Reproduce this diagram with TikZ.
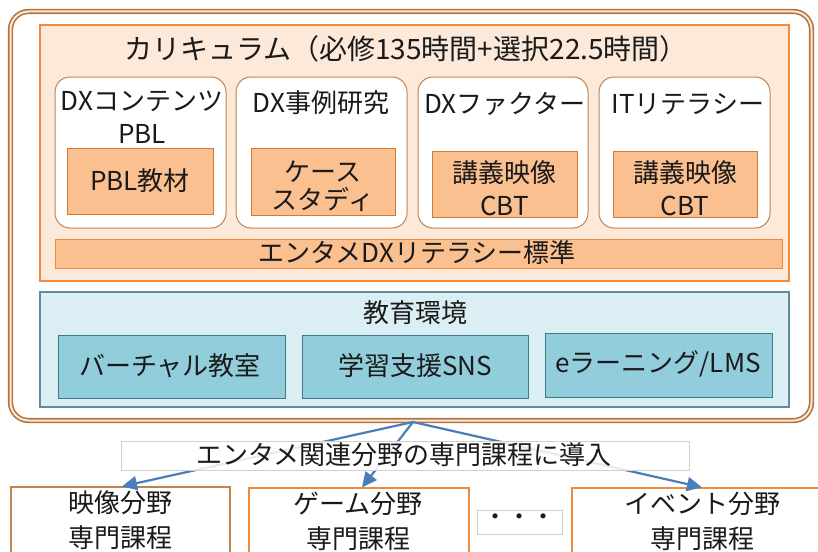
\documentclass[tikz,border=0pt]{standalone}
\usepackage{fontspec}
\setmainfont{Noto Sans CJK JP}
\usetikzlibrary{arrows.meta,positioning}
\definecolor{framebrown}{HTML}{B8733A}
\definecolor{curfill}{HTML}{FDE9D9}
\definecolor{curdraw}{HTML}{F08A3E}
\definecolor{subdraw}{HTML}{C08550}
\definecolor{innfill}{HTML}{FAC090}
\definecolor{inndraw}{HTML}{D27A35}
\definecolor{edufill}{HTML}{DAEEF3}
\definecolor{edudraw}{HTML}{5B8D9E}
\definecolor{einfill}{HTML}{92CDDC}
\definecolor{eindraw}{HTML}{3F7A8C}
\definecolor{arrowblue}{HTML}{4A7EBB}
\definecolor{lblgray}{HTML}{D0D0D0}
\definecolor{txt}{HTML}{1A1A1A}
\tikzset{
  boxtext/.style={font=\fontsize{26}{33}\selectfont, text=txt, align=center},
  subbox/.style={draw=subdraw, fill=white, line width=1pt, rounded corners=15pt},
  innbox/.style={draw=inndraw, fill=innfill, line width=1pt},
  edubox/.style={draw=eindraw, fill=einfill, line width=1pt},
  coursebox/.style={draw=curdraw, fill=white, line width=1.2pt},
  flowarrow/.style={draw=arrowblue, line width=2.2pt, -{Triangle[length=15pt,width=14pt]}}
}
\begin{document}
\begin{tikzpicture}[x=1pt,y=-1pt]
\clip (0,0) rectangle (818,551);
\fill[white] (0,0) rectangle (818,551);
% outer frame
\draw[draw=framebrown, double=white!85!framebrown, line width=1.6pt, double distance=2pt, rounded corners=18pt]
  (10.5,11.5) rectangle (811.5,420.5);
\coordinate (frameBottom) at (413,422);
% curriculum
\node[draw=curdraw, fill=curfill, line width=1.2pt, minimum width=749pt, minimum height=256pt, inner sep=0pt] (cur) at (414.5,153) {};
\node[boxtext, font=\fontsize{28}{33}\selectfont] (curtitle) at (406,49) {カリキュラム（必修135時間+選択22.5時間）};
% sub boxes
\node[subbox, minimum width=171pt, minimum height=151pt, inner sep=0pt] (s1) at (140.5,152.5) {};
\node[subbox, minimum width=171pt, minimum height=151pt, inner sep=0pt] (s2) at (321.5,152.5) {};
\node[subbox, minimum width=170pt, minimum height=151pt, inner sep=0pt] (s3) at (503,152.5) {};
\node[subbox, minimum width=171pt, minimum height=151pt, inner sep=0pt] (s4) at (684.5,152.5) {};
\node[boxtext] (s1t) at (142,117) {DXコンテンツ\\PBL};
\node[boxtext] (s2t) at (321,103) {DX事例研究};
\node[boxtext] (s3t) at (505,104) {DXファクター};
\node[boxtext] (s4t) at (688,104) {ITリテラシー};
% inner boxes
\node[innbox, minimum width=146pt, minimum height=66pt, inner sep=0pt] (i1) at (140,181) {};
\node[innbox, minimum width=144pt, minimum height=67pt, inner sep=0pt] (i2) at (323,181.5) {};
\node[innbox, minimum width=145pt, minimum height=66pt, inner sep=0pt] (i3) at (504.5,184) {};
\node[innbox, minimum width=144pt, minimum height=66pt, inner sep=0pt] (i4) at (685,184) {};
\node[boxtext] (i1t) at (i1.center) {PBL教材};
\node[boxtext, font=\fontsize{26}{28}\selectfont] (i2t) at (323,186) {ケース\\スタディ};
\node[boxtext] (i3t) at (504.5,188) {講義映像\\CBT};
\node[boxtext] (i4t) at (685,188) {講義映像\\CBT};
% bar
\node[draw=curdraw, fill=innfill, line width=1pt, minimum width=727pt, minimum height=29pt, inner sep=0pt] (bar) at (418.5,253.5) {};
\node[boxtext] (bart) at (417,253) {エンタメDXリテラシー標準};
% education environment
\node[draw=edudraw, fill=edufill, line width=1.2pt, minimum width=749pt, minimum height=115pt, inner sep=0pt] (edu) at (414.5,349.5) {};
\node[boxtext] (edut) at (415,313) {教育環境};
\node[edubox, minimum width=227pt, minimum height=63pt, inner sep=0pt] (e1) at (171.5,366.5) {};
\node[edubox, minimum width=226pt, minimum height=63pt, inner sep=0pt] (e2) at (415,366.5) {};
\node[edubox, minimum width=227pt, minimum height=64pt, inner sep=0pt] (e3) at (658.5,365) {};
\node[boxtext] (e1t) at (170,366) {バーチャル教室};
\node[boxtext] (e2t) at (415,366) {学習支援SNS};
\node[boxtext] (e3t) at (658,364) {eラーニング/LMS};
% course boxes
\node[coursebox, draw=subdraw, minimum width=219pt, minimum height=80pt, inner sep=0pt] (c1) at (120.5,527) {};
\node[coursebox, minimum width=220pt, minimum height=80pt, inner sep=0pt] (c2) at (359,528) {};
\node[coursebox, minimum width=260pt, minimum height=80pt, inner sep=0pt] (c3) at (702,528) {};
\node[boxtext, font=\fontsize{26}{35}\selectfont] (c1t) at (120,520) {映像分野\\専門課程};
\node[boxtext, font=\fontsize{26}{35}\selectfont] (c2t) at (358,521) {ゲーム分野\\専門課程};
\node[boxtext, font=\fontsize{26}{35}\selectfont] (c3t) at (702,521) {イベント分野\\専門課程};
\node[draw=lblgray, fill=white, line width=0.8pt, minimum width=85pt, minimum height=24pt, inner sep=0pt] (dots) at (519.5,522) {};
\node[font=\fontsize{24}{24}\selectfont, text=txt] (dotst) at (519.5,520) {・・・};
% arrows
\draw[flowarrow] (frameBottom) -- (c1.north -| 122,0);
\draw[flowarrow] (frameBottom) -- (c2.north -| 362,0);
\draw[flowarrow] (frameBottom) -- (c3.north -| 702,0);
% label box (semi-transparent over arrows)
\node[draw=lblgray, fill=white, fill opacity=0.85, line width=0.8pt, minimum width=568pt, minimum height=29pt, inner sep=0pt] (lbl) at (405,455.5) {};
\node[boxtext] (lblt) at (404,455) {エンタメ関連分野の専門課程に導入};
\end{tikzpicture}
\end{document}
